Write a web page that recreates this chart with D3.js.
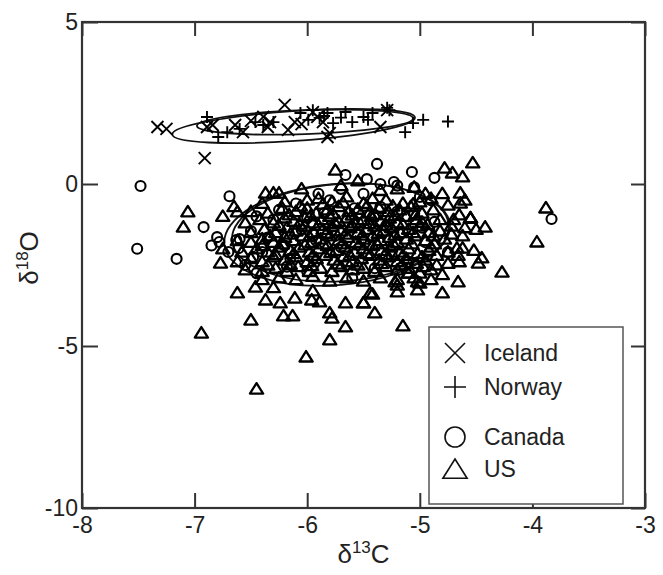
<!DOCTYPE html>
<html><head><meta charset="utf-8">
<script src="https://cdn.jsdelivr.net/npm/d3@7"></script>
<style>body{margin:0;background:#fff}svg{display:block}text{font-family:"Liberation Sans",Arial,sans-serif}</style>
</head><body><svg id="c" width="663" height="575"></svg>
<script>
const xTicks = [-8,-7,-6,-5,-4,-3];
const yTicks = [5,0,-5,-10];
const seriesNames = ["Iceland","Norway","Canada","US"];

const iceland = [[-7.33,1.76],[-7.25,1.70],[-6.91,0.80],[-6.89,1.76],[-6.84,1.82],[-6.64,1.82],[-6.57,1.60],[-6.39,2.07],[-6.33,1.91],[-6.35,1.76],[-6.20,2.44],[-6.17,1.67],[-6.11,1.91],[-5.95,2.22],[-5.91,2.07],[-5.86,1.91],[-5.82,1.45],[-5.80,1.57],[-5.35,1.76],[-5.29,2.28],[-6.50,1.95],[-6.05,1.85]];
const norway = [[-6.89,2.07],[-6.79,1.45],[-6.71,1.60],[-6.46,1.91],[-6.39,1.82],[-6.30,1.91],[-6.06,2.19],[-5.99,1.98],[-5.95,2.28],[-5.89,2.04],[-5.82,2.19],[-5.77,1.88],[-5.66,2.22],[-5.60,1.91],[-5.50,2.07],[-5.46,1.98],[-5.42,2.19],[-5.29,2.35],[-5.27,2.28],[-5.13,1.60],[-5.06,1.88],[-4.97,1.98],[-4.75,1.93],[-5.85,2.10],[-5.70,2.05],[-6.60,1.70]];
const canada = [[-7.48,-0.06],[-7.51,-2.00],[-7.16,-2.31],[-6.69,-0.38],[-6.92,-1.33],[-6.80,-1.64],[-6.78,-1.79],[-6.63,-1.73],[-6.61,-1.98],[-5.38,0.62],[-5.07,0.37],[-4.87,0.19],[-5.66,0.28],[-5.47,0.15],[-5.23,0.06],[-3.83,-1.08],[-6.85,-1.90],
 [-6.10,-0.60],[-5.90,-0.30],[-5.70,-0.15],[-5.50,-0.30],[-5.35,0.00],[-5.20,-0.05],[-5.05,-0.10],[-4.90,-0.50],[-6.60,-1.70],[-6.50,-1.45],[-6.40,-2.10],[-6.30,-1.10],[-6.20,-1.90],[-6.05,-1.40],[-5.95,-2.30],[-5.85,-0.90],[-5.75,-1.60],[-5.65,-2.50],[-5.55,-1.20],[-5.45,-1.90],[-5.35,-0.70],[-5.25,-2.20],[-5.15,-1.50],[-5.05,-0.90],[-4.95,-1.80],[-4.87,-1.17],[-4.75,-2.10],[-6.45,-2.75],[-6.70,-2.10],[-6.55,-2.50],[-6.00,-2.70],[-5.60,-2.90],[-5.80,-0.50],[-6.25,-0.80],[-5.40,-2.60],[-5.10,-2.40],[-6.15,-2.30],[-5.00,-0.40],[-6.45,-1.00],
 [-6.35,-1.65],[-6.00,-1.05],[-5.70,-1.95],[-5.30,-1.30],[-5.92,-1.75],[-5.58,-0.75],[-6.18,-2.55],[-5.20,-0.85],[-4.98,-1.35],[-6.48,-2.25]];
const us = [
 [-6.37,-0.28],[-6.30,-0.28],[-6.25,-0.28],[-6.05,-0.15],[-5.75,0.43],[-5.70,-0.05],[-5.55,0.10],[-5.35,-0.20],[-5.20,-0.15],[-5.05,-0.10],[-4.95,-0.30],[-4.80,-0.30],[-4.78,0.49],[-4.62,0.22],[-4.71,0.34],[-4.53,0.65],[-4.64,-0.28],[-4.64,-0.59],
 [-6.65,-0.70],[-6.40,-0.60],[-6.20,-0.55],[-6.00,-0.50],[-5.90,-0.45],[-5.78,-0.55],[-5.65,-0.40],[-5.50,-0.60],[-5.42,-0.45],[-5.30,-0.50],[-5.15,-0.60],[-5.00,-0.55],[-4.90,-0.45],[-4.75,-0.65],[-4.60,-0.50],[-4.65,-0.95],
 [-6.75,-1.00],[-6.50,-0.85],[-6.35,-0.90],[-6.22,-0.75],[-6.10,-0.85],[-6.00,-0.75],[-5.92,-0.90],[-5.82,-0.80],[-5.72,-0.70],[-5.63,-0.85],[-5.55,-0.78],[-5.45,-0.90],[-5.36,-0.75],[-5.28,-0.85],[-5.18,-0.80],[-5.08,-0.70],[-4.98,-0.90],[-4.88,-0.80],[-4.70,-1.10],[-4.55,-1.05],
 [-6.55,-1.20],[-6.42,-1.10],[-6.30,-1.20],[-6.20,-1.05],[-6.12,-1.15],[-6.03,-1.00],[-5.95,-1.20],[-5.87,-1.10],[-5.80,-1.00],[-5.72,-1.15],[-5.65,-1.05],[-5.58,-1.20],[-5.50,-1.10],[-5.43,-1.00],[-5.35,-1.15],[-5.27,-1.05],[-5.20,-1.20],[-5.12,-1.00],[-5.03,-1.10],[-4.93,-1.25],[-4.82,-1.10],[-4.72,-1.30],[-4.60,-1.35],[-4.50,-1.40],[-4.42,-1.33],
 [-6.50,-1.50],[-6.38,-1.40],[-6.28,-1.50],[-6.18,-1.35],[-6.10,-1.45],[-6.02,-1.30],[-5.94,-1.50],[-5.86,-1.40],[-5.78,-1.30],[-5.70,-1.45],[-5.62,-1.35],[-5.55,-1.50],[-5.47,-1.40],[-5.40,-1.30],[-5.32,-1.45],[-5.25,-1.35],[-5.17,-1.50],[-5.10,-1.40],[-5.00,-1.30],[-4.92,-1.50],[-4.82,-1.45],[-4.72,-1.55],[-4.62,-1.60],
 [-6.62,-1.75],[-6.50,-1.80],[-6.40,-1.70],[-6.30,-1.80],[-6.20,-1.65],[-6.12,-1.75],[-6.04,-1.60],[-5.96,-1.80],[-5.88,-1.70],[-5.80,-1.60],[-5.72,-1.75],[-5.64,-1.65],[-5.57,-1.80],[-5.50,-1.70],[-5.42,-1.60],[-5.35,-1.75],[-5.27,-1.65],[-5.20,-1.80],[-5.12,-1.70],[-5.04,-1.60],[-4.95,-1.75],[-4.87,-1.85],[-4.78,-1.70],[-4.67,-1.98],[-4.62,-1.98],[-4.52,-2.05],[-4.55,-1.05],
 [-6.75,-2.00],[-6.58,-2.10],[-6.45,-2.00],[-6.35,-2.10],[-6.25,-1.95],[-6.15,-2.05],[-6.07,-1.95],[-5.98,-2.10],[-5.90,-2.00],[-5.82,-1.90],[-5.74,-2.05],[-5.66,-1.95],[-5.58,-2.10],[-5.50,-2.00],[-5.42,-1.90],[-5.34,-2.05],[-5.26,-1.95],[-5.18,-2.10],[-5.10,-2.00],[-5.02,-2.15],[-4.92,-2.05],[-4.85,-2.20],[-4.75,-2.10],[-4.66,-2.20],
 [-6.62,-2.40],[-6.50,-2.30],[-6.40,-2.40],[-6.30,-2.25],[-6.20,-2.35],[-6.10,-2.25],[-6.00,-2.40],[-5.92,-2.30],[-5.84,-2.20],[-5.76,-2.35],[-5.68,-2.25],[-5.60,-2.40],[-5.52,-2.30],[-5.44,-2.20],[-5.36,-2.35],[-5.28,-2.25],[-5.20,-2.40],[-5.12,-2.30],[-5.03,-2.45],[-4.95,-2.35],[-4.85,-2.50],[-4.75,-2.45],[-4.65,-2.40],
 [-6.55,-2.65],[-6.40,-2.70],[-6.28,-2.60],[-6.18,-2.70],[-6.08,-2.55],[-5.98,-2.70],[-5.88,-2.60],[-5.78,-2.70],[-5.70,-2.55],[-5.60,-2.65],[-5.50,-2.60],[-5.40,-2.70],[-5.30,-2.55],[-5.20,-2.65],[-5.10,-2.60],[-5.00,-2.75],[-4.90,-2.65],[-4.80,-2.80],[-5.10,-2.75],
 [-6.40,-2.95],[-6.25,-2.90],[-6.10,-2.95],[-5.95,-2.85],[-5.80,-3.00],[-5.65,-2.90],[-5.50,-3.00],[-5.35,-2.90],[-5.20,-2.95],[-5.05,-2.90],[-4.90,-2.95],
 [-6.24,-3.67],[-6.11,-3.52],[-5.96,-3.58],[-5.89,-3.64],[-5.80,-3.98],[-5.66,-3.67],[-5.50,-3.67],[-5.42,-3.40],[-5.20,-3.12],[-5.02,-3.02],[-4.80,-3.36],[-4.66,-3.02],[-6.62,-3.36],[-6.46,-3.18],[-6.77,-2.44],[-7.06,-0.86],[-7.10,-1.33],[-6.62,-0.86],
 [-3.88,-0.74],[-3.96,-1.79],[-4.27,-2.72],[-4.45,-2.28],[-4.48,-2.44],[-4.55,-1.05],[-5.00,-3.06],[-5.22,-3.02],[-5.20,-3.33],[-5.02,-3.27],[-5.44,-3.36],[-5.50,-3.67],[-5.10,-2.75],
 [-6.01,-5.34],[-6.45,-6.33],[-6.94,-4.60],[-6.50,-4.20],[-6.21,-4.07],[-6.13,-4.07],[-5.80,-4.81],[-5.78,-4.14],[-5.66,-4.41],[-5.15,-4.38],[-5.40,-3.98],[-6.37,-3.58],[-5.95,-3.30],[-6.30,-3.20],
 [-6.06,-0.68],[-5.86,-0.62],[-5.68,-0.58],[-5.47,-0.68],[-5.24,-0.68],[-5.06,-0.62],[-6.16,-0.95],[-5.97,-0.98],[-5.77,-0.92],[-5.60,-0.96],[-5.40,-0.95],[-5.22,-0.97],[-5.04,-0.96],
 [-6.25,-1.28],[-6.07,-1.24],[-5.90,-1.28],[-5.75,-1.22],[-5.60,-1.28],[-5.45,-1.22],[-5.30,-1.27],[-5.15,-1.25],[-4.98,-1.18],
 [-6.33,-1.60],[-6.15,-1.55],[-5.98,-1.62],[-5.83,-1.52],[-5.66,-1.55],[-5.51,-1.58],[-5.37,-1.52],[-5.22,-1.58],[-5.06,-1.50],[-4.88,-1.60],
 [-6.40,-1.90],[-6.22,-1.85],[-6.02,-1.88],[-5.86,-1.85],[-5.69,-1.85],[-5.54,-1.88],[-5.38,-1.85],[-5.23,-1.88],[-5.07,-1.85],[-4.90,-1.95],
 [-6.28,-2.18],[-6.12,-2.15],[-5.95,-2.20],[-5.79,-2.12],[-5.62,-2.20],[-5.47,-2.15],[-5.31,-2.18],[-5.15,-2.20],[-4.98,-2.25],
 [-6.35,-2.50],[-6.15,-2.48],[-5.96,-2.52],[-5.73,-2.47],[-5.55,-2.50],[-5.34,-2.46],[-5.16,-2.50],[-4.97,-2.55]
];
// ellipses: center (data), semi-axes (data units), rotation (deg)
const ellipses = [
 {cx:-6.12, cy:1.79, rx:1.08, ry:0.46, rot:-4},
 {cx:-6.02, cy:1.91, rx:0.96, ry:0.37, rot:-2},
 {cx:-5.74, cy:-1.56, rx:1.00, ry:1.56, rot:-5},
 {cx:-5.70, cy:-1.50, rx:0.97, ry:1.50, rot:-4}
];

const svg = d3.select("#c");
const L=82,R=645,T=22,B=508;
const x = d3.scaleLinear().domain([-8,-3]).range([L,R]);
const y = d3.scaleLinear().domain([-10,5]).range([B,T]);
const axCol="#333";

const kx = x(1)-x(0), ky = y(0)-y(1);
ellipses.forEach(e=>{
  svg.append("ellipse").attr("cx",0).attr("cy",0).attr("rx",e.rx*kx).attr("ry",e.ry*ky)
    .attr("transform",`translate(${x(e.cx)},${y(e.cy)}) rotate(${e.rot})`)
    .attr("fill","none").attr("stroke","#111").attr("stroke-width",1.8);
});

const g = svg.append("g");
const cross = (s)=>`M${-s},${-s}L${s},${s}M${-s},${s}L${s},${-s}`;
const plus = (s)=>`M${-s},0L${s},0M0,${-s}L0,${s}`;
const tri = (s)=>`M0,${-s}L${s*1.1},${s*0.75}L${-s*1.1},${s*0.75}Z`;
g.selectAll(".c").data(canada).join("circle").attr("cx",d=>x(d[0])).attr("cy",d=>y(d[1])).attr("r",5)
  .attr("fill","none").attr("stroke","#000").attr("stroke-width",2.1);
g.selectAll(".t").data(us).join("path").attr("d",tri(6)).attr("transform",d=>`translate(${x(d[0])},${y(d[1])})`)
  .attr("fill","none").attr("stroke","#000").attr("stroke-width",2.3).attr("stroke-linejoin","round");
g.selectAll(".i").data(iceland).join("path").attr("d",cross(6)).attr("transform",d=>`translate(${x(d[0])},${y(d[1])})`)
  .attr("fill","none").attr("stroke","#000").attr("stroke-width",1.9);
g.selectAll(".n").data(norway).join("path").attr("d",plus(6)).attr("transform",d=>`translate(${x(d[0])},${y(d[1])})`)
  .attr("fill","none").attr("stroke","#000").attr("stroke-width",1.9);

const fmt = d=>String(d);
function styleAxis(sel){
  sel.select(".domain").remove();
  sel.selectAll(".tick line").attr("stroke",axCol).attr("stroke-width",2);
  sel.selectAll("text").attr("fill","#222").style("font-size","23px").style("font-family",'"Liberation Sans",Arial,sans-serif');
}
svg.append("g").attr("transform",`translate(0,${B})`).call(d3.axisBottom(x).tickValues(xTicks).tickFormat(fmt).tickSize(-15).tickPadding(9)).call(styleAxis);
svg.append("g").attr("transform",`translate(0,${T})`).call(d3.axisTop(x).tickValues(xTicks).tickFormat("").tickSize(-14)).call(styleAxis);
svg.append("g").attr("transform",`translate(${L},0)`).call(d3.axisLeft(y).tickValues(yTicks).tickFormat(fmt).tickSize(-16).tickPadding(4)).call(styleAxis);
svg.append("g").attr("transform",`translate(${R},0)`).call(d3.axisRight(y).tickValues(yTicks).tickFormat("").tickSize(-14)).call(styleAxis);
svg.append("rect").attr("x",L).attr("y",T).attr("width",R-L).attr("height",B-T).attr("fill","none").attr("stroke",axCol).attr("stroke-width",2.2);

const xt = svg.append("text").attr("x",(L+R)/2).attr("y",563).attr("text-anchor","middle").style("font-size","26px").attr("fill","#222");
xt.append("tspan").text("δ");
xt.append("tspan").text("13").style("font-size","17px").attr("dy",-10);
xt.append("tspan").text("C").attr("dy",10);
const yt = svg.append("text").attr("transform",`translate(38,258) rotate(-90)`).attr("text-anchor","middle").style("font-size","26px").attr("fill","#222");
yt.append("tspan").text("δ");
yt.append("tspan").text("18").style("font-size","17px").attr("dy",-10);
yt.append("tspan").text("O").attr("dy",10);

const lg = svg.append("g");
lg.append("rect").attr("x",429).attr("y",327).attr("width",194).attr("height",177).attr("fill","#fff").attr("stroke","#555").attr("stroke-width",1.5);
const legY = [353,387,437,469];
const legPaths = [cross(10),plus(11),null,tri(11)];
seriesNames.forEach((nm,i)=>{
  if(i===2){
    lg.append("circle").attr("cx",455).attr("cy",legY[i]).attr("r",10).attr("fill","none").attr("stroke","#111").attr("stroke-width",1.6);
  } else {
    lg.append("path").attr("d",legPaths[i]).attr("transform",`translate(455,${legY[i]+(i===3?1:0)})`).attr("fill","none").attr("stroke","#111").attr("stroke-width",1.6);
  }
  lg.append("text").attr("x",484).attr("y",legY[i]+8).text(nm).style("font-size","23px").attr("fill","#222");
});
</script></body></html>
